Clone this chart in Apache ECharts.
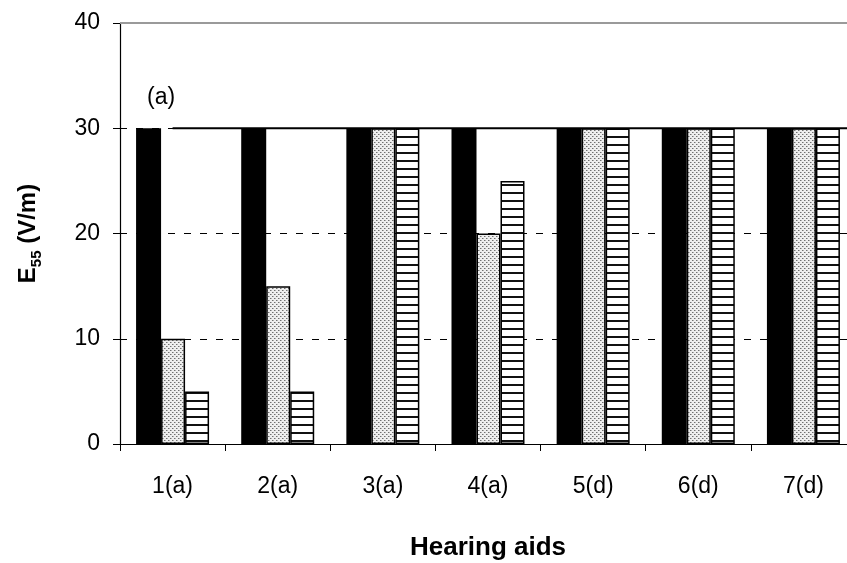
<!DOCTYPE html>
<html>
<head>
<meta charset="utf-8">
<script src="https://cdn.jsdelivr.net/npm/echarts@6/dist/echarts.min.js"></script>
<style>
  html, body { margin: 0; padding: 0; background: #fff; }
  #chart { width: 847px; height: 563px; }
</style>
</head>
<body>
<div id="chart"></div>
<script>
// Hearing aids tested and their E55 immunity level (V/m) for three test conditions
const categories = ['1(a)', '2(a)', '3(a)', '4(a)', '5(d)', '6(d)', '7(d)'];
const solidValues = [30, 30, 30, 30, 30, 30, 30];
const dottedValues = [10, 15, 30, 20, 30, 30, 30];
const stripedValues = [5, 5, 30, 25, 30, 30, 30];
const yTicks = [0, 10, 20, 30, 40];
const limitLevel = 30;
const panelLabel = '(a)';

// Fill patterns for the bars
function dotPattern() {
  const c = document.createElement('canvas');
  c.width = 4; c.height = 4;
  const g = c.getContext('2d');
  g.fillStyle = '#eeeeee';
  g.fillRect(0, 0, 4, 4);
  g.fillStyle = '#707070';
  g.fillRect(0, 0, 1, 1);
  g.fillRect(2, 2, 1, 1);
  g.fillStyle = '#b0b0b0';
  g.fillRect(1, 0, 1, 1);
  g.fillRect(3, 2, 1, 1);
  return c;
}
function stripePattern() {
  const c = document.createElement('canvas');
  c.width = 4; c.height = 8;
  const g = c.getContext('2d');
  g.fillStyle = '#ffffff';
  g.fillRect(0, 0, 4, 8);
  g.fillStyle = '#111111';
  g.fillRect(0, 0, 4, 2);
  return c;
}

const chart = echarts.init(document.getElementById('chart'));
const font = '"Liberation Sans", Arial, sans-serif';

chart.setOption({
  animation: false,
  backgroundColor: '#ffffff',
  grid: { left: 120, right: -9, top: 23, bottom: 119, containLabel: false, outerBoundsMode: 'none' },
  xAxis: [{
    type: 'category',
    data: categories,
    axisLine: { lineStyle: { color: '#000', width: 1.2 } },
    axisTick: { show: true, length: 7, lineStyle: { color: '#000' } },
    axisLabel: { color: '#000', fontSize: 23, fontFamily: font, margin: 31 },
    name: 'Hearing aids',
    nameLocation: 'middle',
    nameGap: 91,
    nameTextStyle: { color: '#000', fontSize: 26, fontWeight: 'bold', fontFamily: font }
  }, {
    type: 'value',
    min: 0,
    max: categories.length,
    show: false
  }],
  yAxis: {
    type: 'value',
    min: yTicks[0],
    max: yTicks[yTicks.length - 1],
    interval: 10,
    axisLine: { show: true, lineStyle: { color: '#000', width: 1.2 } },
    axisTick: { show: true, length: 7, lineStyle: { color: '#000' } },
    axisLabel: { color: '#000', fontSize: 23, fontFamily: font, margin: 20 },
    splitLine: {
      show: true,
      showMinLine: false,
      showMaxLine: false,
      lineStyle: { color: '#000', width: 1, type: [7, 9] }
    },
    name: '{b|E}{s|55}{b| (V/m)}',
    nameLocation: 'middle',
    nameGap: 80,
    nameRotate: 90,
    nameTextStyle: {
      rich: {
        b: { fontSize: 24, fontWeight: 'bold', fontFamily: font, color: '#000', lineHeight: 26, verticalAlign: 'bottom' },
        s: { fontSize: 15, fontWeight: 'bold', fontFamily: font, color: '#000', lineHeight: 16, verticalAlign: 'bottom', padding: [0, 0, -4, 0] }
      }
    }
  },
  graphic: [{
    type: 'text',
    left: 147,
    top: 86,
    style: { text: panelLabel, fontSize: 23, fontFamily: font, fill: '#000' }
  }],
  series: [{
    type: 'bar',
    data: solidValues,
    barWidth: 25,
    barGap: '0%',
    itemStyle: { color: '#000' },
    z: 3,
    markLine: {
      silent: true,
      symbol: 'none',
      label: { show: false },
      lineStyle: { color: '#9a9a9a', width: 2, type: 'solid' },
      data: [{ yAxis: yTicks[yTicks.length - 1] }]
    }
  }, {
    type: 'bar',
    data: dottedValues,
    barWidth: 24,
    barGap: '0%',
    itemStyle: {
      color: { image: dotPattern(), repeat: 'repeat' },
      borderColor: '#000',
      borderWidth: 1.5
    },
    z: 3
  }, {
    type: 'bar',
    data: stripedValues,
    barWidth: 24,
    barGap: '0%',
    itemStyle: {
      color: { image: stripePattern(), repeat: 'repeat' },
      borderColor: '#000',
      borderWidth: 1.5
    },
    z: 3
  }, {
    // 30 V/m reference level, starting from the first hearing aid
    type: 'line',
    xAxisIndex: 1,
    data: [[0.5, limitLevel], [categories.length, limitLevel]],
    symbol: 'none',
    lineStyle: { color: '#000', width: 2 },
    z: 4
  }]
});
</script>
</body>
</html>
